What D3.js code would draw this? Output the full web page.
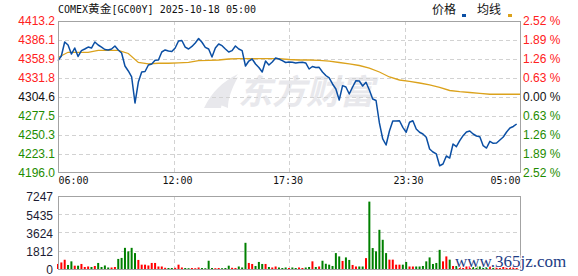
<!DOCTYPE html>
<meta charset="utf-8" />
<html>
<head>
<title>COMEX黄金[GC00Y]</title>
<script src="https://d3js.org/d3.v7.min.js"></script>
<style>
  body { margin: 0; background: #fff; }
  svg { display: block; }
  .grid line { stroke: #d2d2d2; stroke-dasharray: 4,3; shape-rendering: crispEdges; }
  .grid path { display: none; }
  .ax path { display: none; }
  .ax text { font-family: Arial, "Liberation Sans", sans-serif; font-size: 12px; }
  .tx text { font-family: "DejaVu Sans Mono", monospace; font-size: 10px; fill: #111; }
</style>
</head>
<body>
<script>

// ---- data ----
var prevClose = 4304.6;
var totalMinutes = 1380;       // 06:00 -> 05:00 next day
var priceStep = 10;            // one price point every 10 minutes
var avgStep = 30;              // one average point every 30 minutes

var priceTicks = [4413.2, 4386.1, 4358.9, 4331.8, 4304.6, 4277.5, 4250.3, 4223.1, 4196.0];
var pctLabels = ["2.52 %", "1.89 %", "1.26 %", "0.63 %", "0.00 %", "0.63 %", "1.26 %", "1.89 %", "2.52 %"];
var volTicks = [7247, 5435, 3624, 1812, 0];
var timeLabels = ["06:00", "12:00", "17:30", "23:30", "05:00"];
var timeMinutes = [0, 360, 690, 1050, 1380];

var priceValues = [
  4356.5, 4363.2, 4383.2, 4378.9, 4366.0, 4374.6, 4362.5, 4370.8, 4373.2, 4376.0,
  4374.6, 4383.2, 4378.9, 4376.0, 4372.5, 4371.8, 4373.2, 4377.5, 4371.8, 4367.5,
  4348.9, 4341.8, 4333.2, 4296.0, 4326.0, 4340.3, 4341.0, 4350.3, 4351.8, 4357.0,
  4357.5, 4368.9, 4371.8, 4370.3, 4369.6, 4374.6, 4384.6, 4385.3, 4376.0, 4373.2,
  4376.8, 4381.8, 4388.2, 4382.8, 4375.6, 4373.2, 4361.8, 4374.6, 4380.3, 4377.9,
  4373.2, 4368.9, 4370.8, 4377.5, 4373.2, 4370.8, 4348.9, 4356.0, 4358.9, 4351.8,
  4346.8, 4340.3, 4356.0, 4350.3, 4354.6, 4360.3, 4358.9, 4356.5, 4353.9, 4354.6,
  4354.2, 4353.2, 4353.9, 4354.2, 4353.2, 4344.6, 4348.2, 4346.8, 4347.0, 4340.3,
  4335.3, 4331.8, 4323.2, 4316.0, 4300.3, 4320.8, 4318.9, 4308.9, 4318.9, 4327.9,
  4327.5, 4320.3, 4325.6, 4314.6, 4301.7, 4299.6, 4267.5, 4244.6, 4236.0, 4256.0,
  4270.3, 4270.3, 4270.7, 4261.3, 4254.2, 4268.5, 4270.7, 4258.9, 4254.2, 4251.7,
  4247.0, 4230.3, 4226.0, 4223.2, 4206.4, 4208.9, 4220.3, 4217.4, 4237.4, 4233.6,
  4242.2, 4249.3, 4254.6, 4256.0, 4251.7, 4248.9, 4247.9, 4235.0, 4231.7, 4241.3,
  4238.4, 4238.9, 4243.2, 4247.4, 4254.6, 4260.3, 4262.5, 4266.0
];

var avgValues = [
  4361.0, 4368.5, 4368.5, 4368.5, 4371.3, 4371.3, 4371.3, 4366.8, 4353.9, 4351.8,
  4352.8, 4352.8, 4353.5, 4354.2, 4356.5, 4356.8, 4357.5, 4358.9, 4359.3, 4359.3,
  4359.3, 4359.3, 4359.3, 4358.2, 4357.5, 4357.5, 4357.0, 4356.0, 4353.9, 4351.8,
  4349.6, 4346.0, 4340.3, 4333.2, 4328.9, 4326.8, 4324.6, 4321.8, 4318.2, 4313.9,
  4312.2, 4311.0, 4309.9, 4308.5, 4308.5, 4308.5, 4308.5
];

var volValues = [
  500, 650, 920, 400, 760, 330, 330, 500, 200, 250,
  200, 300, 600, 200, 350, 150, 150, 200, 1000, 1100,
  2100, 1750, 2100, 1580, 900, 430, 430, 350, 600, 600,
  250, 250, 120, 100, 100, 120, 430, 150, 100, 80,
  100, 80, 150, 100, 80, 820, 100, 80, 100, 80,
  100, 330, 120, 100, 250, 150, 2600, 600, 500, 300,
  700, 500, 500, 200, 150, 250, 150, 100, 150, 100,
  150, 100, 150, 100, 150, 200, 760, 200, 250, 820,
  520, 430, 300, 1580, 1250, 800, 1150, 900, 400, 250,
  250, 250, 1080, 6690, 2080, 1750, 3890, 2900, 1580, 930,
  930, 430, 430, 430, 700, 250, 250, 250, 250, 300,
  760, 1150, 500, 600, 1900, 760, 1250, 930, 300, 300,
  250, 350, 250, 300, 200, 350, 250, 300, 200, 250,
  300, 200, 250, 200, 300, 250, 200, 300
];

// ---- layout ----
var W = 578, H = 276;
var pL = 58, pR = 520, pT = 21, pB = 173;
var vT = 196, vB = 269;

var svg = d3.select("body").append("svg")
    .attr("width", W)
    .attr("height", H);

var x = d3.scaleLinear().domain([0, totalMinutes]).range([pL, pR]);
var y = d3.scaleLinear().domain([priceTicks[priceTicks.length - 1], priceTicks[0]]).range([pB, pT]);
var yv = d3.scaleLinear().domain([0, volTicks[0]]).range([vB, vT]);

function labelColor(v) {
  if (v > prevClose + 0.01) return "#ff2020";
  if (v < prevClose - 0.01) return "#1e8c00";
  return "#111";
}

// watermark
var wm = svg.append("g").attr("fill", "#e8e8ec");
wm.append("path")
    .attr("d", "M204,108 C212,92 222,82 238,74 C228,86 223,96 221,108 Z M213,102 C218,90 227,81 238,77 C231,90 228,99 228,108 Z");
wm.append("text")
    .attr("x", 238).attr("y", 104)
    .style("font-family", "'Noto Sans CJK SC', sans-serif")
    .style("font-size", "34px").style("font-weight", 700)
    .style("font-style", "italic")
    .text("东方财富");

// grids, price panel
var midTicks = priceTicks.slice(1, -1);
svg.append("g").attr("class", "grid")
    .attr("transform", "translate(" + pL + ",0)")
    .call(d3.axisLeft(y).tickValues(midTicks).tickSize(-(pR - pL)).tickFormat(""));

var quarters = d3.range(1, 4).map(function(i) { return totalMinutes * i / 4; });
svg.append("g").attr("class", "grid")
    .attr("transform", "translate(0," + pT + ")")
    .call(d3.axisBottom(x).tickValues(quarters).tickSize(pB - pT).tickFormat(""));

// grids, volume panel
svg.append("g").attr("class", "grid")
    .attr("transform", "translate(" + pL + ",0)")
    .call(d3.axisLeft(yv).tickValues(volTicks.slice(1, -1)).tickSize(-(pR - pL)).tickFormat(""));
svg.append("g").attr("class", "grid")
    .attr("transform", "translate(0," + vT + ")")
    .call(d3.axisBottom(x).tickValues(quarters).tickSize(vB - vT).tickFormat(""));

// average line
var avgLine = d3.line()
    .x(function(d, i) { return x(Math.min(i * avgStep, totalMinutes)); })
    .y(function(d) { return y(d); });
svg.append("path")
    .datum(avgValues)
    .attr("fill", "none")
    .attr("stroke", "#dba21c")
    .attr("stroke-width", 1.3)
    .attr("d", avgLine);

// price line
var priceLine = d3.line()
    .x(function(d, i) { return x(i * priceStep); })
    .y(function(d) { return y(d); });
svg.append("path")
    .datum(priceValues)
    .attr("fill", "none")
    .attr("stroke", "#0b4fa4")
    .attr("stroke-width", 1.5)
    .attr("stroke-linejoin", "round")
    .attr("d", priceLine);

// volume bars
svg.append("g").selectAll("rect")
    .data(volValues)
    .enter().append("rect")
    .attr("x", function(d, i) { return x(i * priceStep) - 1; })
    .attr("y", function(d) { return yv(d); })
    .attr("width", 2)
    .attr("height", function(d) { return yv(0) - yv(d); })
    .attr("fill", function(d, i) {
      var prev = i === 0 ? prevClose : priceValues[i - 1];
      return priceValues[i] >= prev ? "#ff0000" : "#008000";
    });

// frames
svg.append("rect")
    .attr("x", pL + 0.5).attr("y", pT + 0.5)
    .attr("width", pR - pL).attr("height", pB - pT - 1)
    .attr("fill", "none").attr("stroke", "#a3a3a3");
svg.append("rect")
    .attr("x", pL + 0.5).attr("y", vT + 0.5)
    .attr("width", pR - pL).attr("height", vB - vT)
    .attr("fill", "none").attr("stroke", "#a3a3a3");

// left price axis
var ax1 = svg.append("g").attr("class", "ax")
    .attr("transform", "translate(" + pL + ",0)")
    .call(d3.axisLeft(y).tickValues(priceTicks).tickSize(0).tickPadding(3)
      .tickFormat(function(d) { return d.toFixed(1); }));
ax1.selectAll("text").attr("fill", function(d) { return labelColor(d); });

// right percent axis
var ax2 = svg.append("g").attr("class", "ax")
    .attr("transform", "translate(" + pR + ",0)")
    .call(d3.axisRight(y).tickValues(priceTicks).tickSize(0).tickPadding(3)
      .tickFormat(function(d, i) { return pctLabels[i]; }));
ax2.selectAll("text").attr("fill", function(d) { return labelColor(d); });

// time axis
var ax3 = svg.append("g").attr("class", "ax tx")
    .attr("transform", "translate(0," + pB + ")")
    .call(d3.axisBottom(x).tickValues(timeMinutes).tickSize(0).tickPadding(4)
      .tickFormat(function(d, i) { return timeLabels[i]; }));
ax3.selectAll("text")
    .attr("text-anchor", function(d, i) { return i === 0 ? "start" : (i === timeLabels.length - 1 ? "end" : "middle"); })
    .attr("dx", function(d, i) { return (i === 0 || i === timeLabels.length - 1) ? 0 : -1.5; });

// volume axis
var ax4 = svg.append("g").attr("class", "ax")
    .attr("transform", "translate(" + pL + ",1)")
    .call(d3.axisLeft(yv).tickValues(volTicks).tickSize(0).tickPadding(5)
      .tickFormat(d3.format("d")));
ax4.selectAll("text").attr("fill", "#1b1b33");

// title
var title = svg.append("text")
    .attr("x", pL).attr("y", 13)
    .style("font-family", "'DejaVu Sans Mono', monospace")
    .style("font-size", "10px")
    .attr("fill", "#111");
title.append("tspan").text("COMEX");
title.append("tspan")
    .style("font-family", "'Noto Sans CJK SC', sans-serif")
    .style("font-size", "11.7px")
    .text("黄金");
title.append("tspan").text("[GC00Y] 2025-10-18 05:00");

// legend
var legend = svg.append("g")
    .style("font-family", "'Noto Sans CJK SC', sans-serif")
    .style("font-size", "12px")
    .attr("fill", "#111");
legend.append("text").attr("x", 432).attr("y", 14).text("价格");
legend.append("rect").attr("x", 462).attr("y", 14).attr("width", 4).attr("height", 3).attr("fill", "#0b4fa4");
legend.append("text").attr("x", 477).attr("y", 14).text("均线");
legend.append("rect").attr("x", 508).attr("y", 14).attr("width", 4).attr("height", 3).attr("fill", "#dba21c");

// site watermark
svg.append("text")
    .attr("x", 455).attr("y", 267)
    .style("font-family", "'Liberation Serif', serif")
    .style("font-size", "17px")
    .attr("fill", "#1d3c85")
    .attr("stroke", "#fff").attr("stroke-width", 2).attr("paint-order", "stroke")
    .text("www.365jz.com");

</script>
</body>
</html>
